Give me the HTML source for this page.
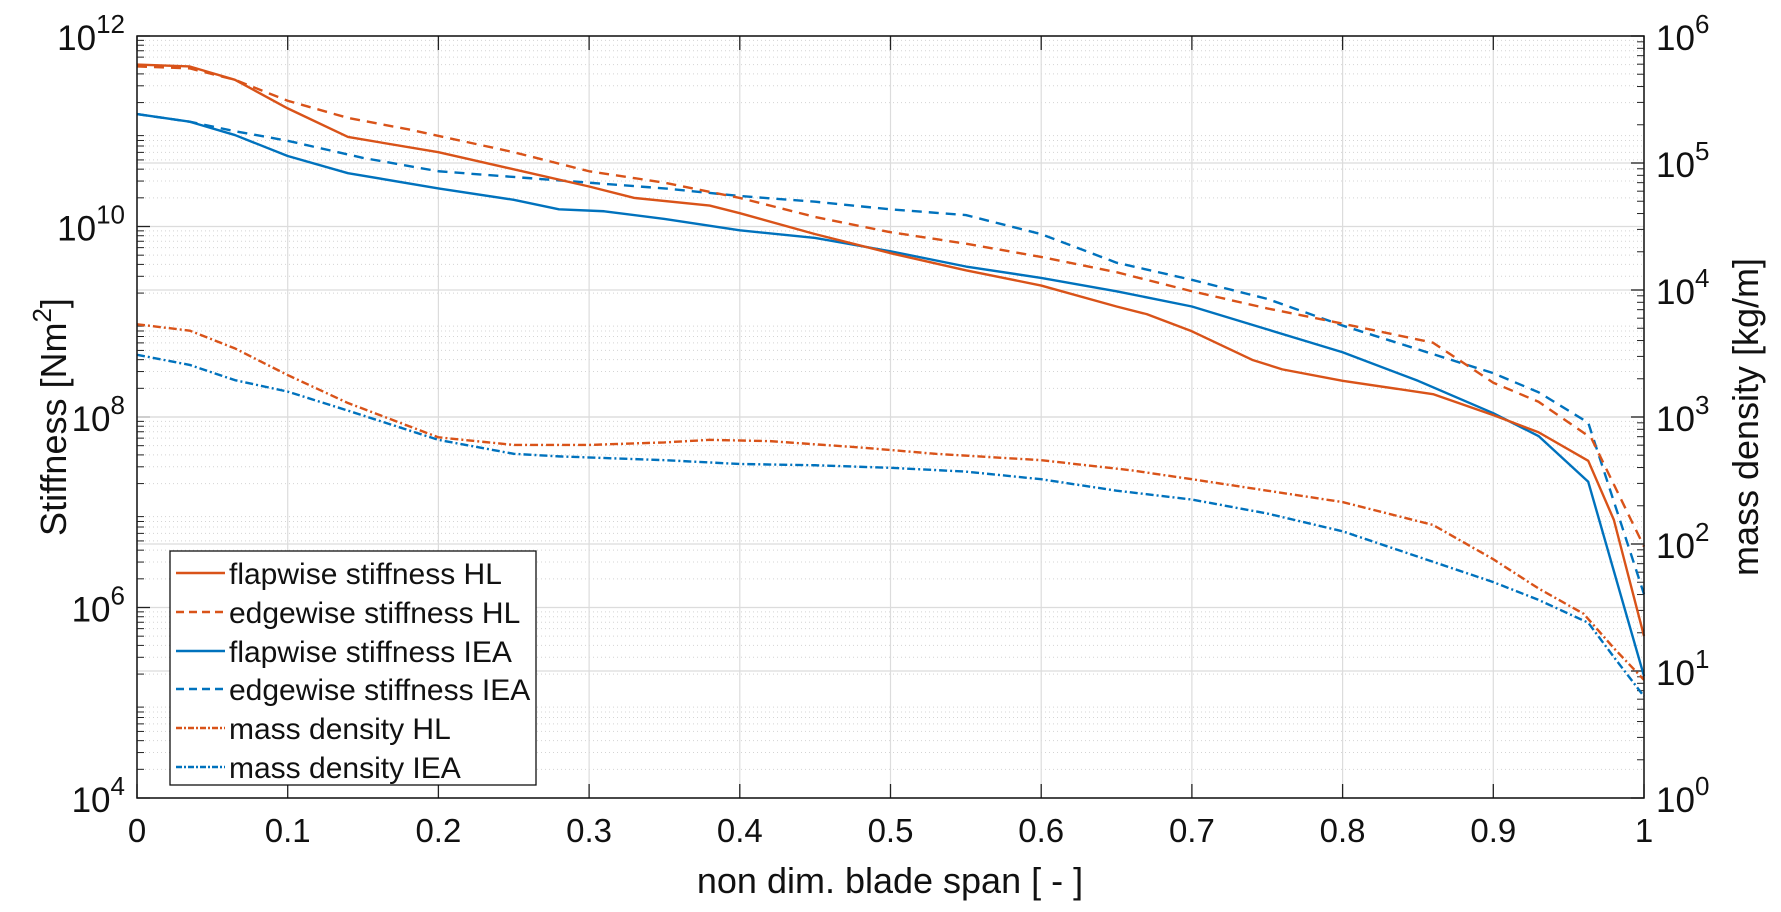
<!DOCTYPE html>
<html><head><meta charset="utf-8"><style>
html,body{margin:0;padding:0;background:#fff;}
svg{display:block;font-family:"Liberation Sans",Arial,sans-serif;}
</style></head><body>
<svg id="chart" width="1781" height="912" viewBox="0 0 1781 912" xmlns="http://www.w3.org/2000/svg"></svg>
<script>
// data: x = non-dim blade span; stiffness as log10(Nm^2); mass as log10(kg/m)
const flapHLx = [0,0.035,0.065,0.1,0.14,0.2,0.25,0.3,0.33,0.38,0.4,0.45,0.5,0.55,0.6,0.65,0.67,0.7,0.74,0.76,0.8,0.86,0.9,0.93,0.963,0.98,1.0];
const flapHL  = [11.70,11.68,11.54,11.24,10.94,10.78,10.60,10.42,10.30,10.22,10.14,9.92,9.72,9.54,9.38,9.16,9.08,8.90,8.60,8.50,8.38,8.24,8.02,7.84,7.54,6.92,5.70];
const edgeHLx = [0,0.035,0.065,0.1,0.14,0.18,0.25,0.3,0.35,0.4,0.45,0.5,0.55,0.6,0.65,0.7,0.75,0.8,0.86,0.9,0.93,0.965,1.0];
const edgeHL  = [11.68,11.66,11.54,11.32,11.14,11.02,10.78,10.58,10.46,10.30,10.10,9.94,9.82,9.68,9.52,9.32,9.14,8.98,8.78,8.36,8.16,7.78,6.64];
const flapIEAx = [0,0.035,0.065,0.1,0.14,0.2,0.25,0.28,0.31,0.35,0.4,0.45,0.5,0.55,0.6,0.65,0.7,0.75,0.8,0.85,0.9,0.93,0.963,1.0];
const flapIEA  = [11.18,11.10,10.96,10.74,10.56,10.40,10.28,10.18,10.16,10.08,9.96,9.88,9.74,9.58,9.46,9.32,9.16,8.92,8.68,8.38,8.04,7.80,7.32,5.28];
const edgeIEAx = [0,0.035,0.065,0.1,0.15,0.2,0.25,0.3,0.35,0.4,0.45,0.5,0.55,0.6,0.65,0.7,0.75,0.8,0.86,0.9,0.93,0.963,1.0];
const edgeIEA  = [11.18,11.10,11.00,10.90,10.72,10.58,10.52,10.46,10.40,10.32,10.26,10.18,10.12,9.92,9.62,9.44,9.24,8.96,8.66,8.46,8.26,7.94,6.14];
const massHLx = [0,0.035,0.065,0.1,0.14,0.2,0.25,0.3,0.35,0.38,0.42,0.48,0.53,0.6,0.66,0.7,0.75,0.8,0.86,0.9,0.93,0.96,0.98,1.0];
const massHL  = [3.73,3.68,3.54,3.33,3.11,2.84,2.78,2.78,2.80,2.82,2.81,2.76,2.71,2.66,2.58,2.51,2.42,2.33,2.15,1.88,1.65,1.45,1.18,0.93];
const massIEAx = [0,0.035,0.065,0.1,0.14,0.2,0.25,0.28,0.35,0.4,0.45,0.5,0.55,0.6,0.65,0.7,0.75,0.8,0.86,0.9,0.93,0.963,0.98,1.0];
const massIEA  = [3.49,3.41,3.29,3.20,3.05,2.82,2.71,2.69,2.66,2.63,2.62,2.60,2.57,2.51,2.42,2.35,2.24,2.10,1.86,1.70,1.56,1.38,1.11,0.80];
const xTicks = [0,0.1,0.2,0.3,0.4,0.5,0.6,0.7,0.8,0.9,1];
const xTickLabels = ["0","0.1","0.2","0.3","0.4","0.5","0.6","0.7","0.8","0.9","1"];
const leftExp = [4,6,8,10,12];
const rightExp = [0,1,2,3,4,5,6];

const NS="http://www.w3.org/2000/svg";
const svg=document.getElementById('chart');
const L=137,R=1644,T=36,B=798;
const xS=v=>L+v*(R-L);
const yL=e=>B-(e-4)/8*(B-T);
const yR=e=>B-e/6*(B-T);
const OR="#D95319",BL="#0072BD";
function mk(tag,attrs,parent){const e=document.createElementNS(NS,tag);for(const k in attrs)e.setAttribute(k,attrs[k]);(parent||svg).appendChild(e);return e;}

const grid=mk('g',{});


for(let d=4;d<12;d++){for(let m=2;m<=9;m++){const y=yL(d+Math.log10(m));mk('line',{x1:L,x2:R,y1:y,y2:y,stroke:"#d4d4d4","stroke-width":1,"stroke-dasharray":"1,3"},grid);
mk('line',{x1:L,x2:L+7,y1:y,y2:y,stroke:"#222","stroke-width":1},grid);}}
for(let d=0;d<6;d++){for(let m=2;m<=9;m++){const y=yR(d+Math.log10(m));mk('line',{x1:R-7,x2:R,y1:y,y2:y,stroke:"#222","stroke-width":1},grid);}}
for(const e of leftExp){const y=yL(e);mk('line',{x1:L,x2:R,y1:y,y2:y,stroke:"#dcdcdc","stroke-width":1.2},grid);mk('line',{x1:L,x2:L+13,y1:y,y2:y,stroke:"#222","stroke-width":1.3},grid);}
for(const e of rightExp){const y=yR(e);mk('line',{x1:L,x2:R,y1:y,y2:y,stroke:"#dcdcdc","stroke-width":1.2},grid);mk('line',{x1:R-13,x2:R,y1:y,y2:y,stroke:"#222","stroke-width":1.3},grid);}
xTicks.forEach(v=>{const x=xS(v);mk('line',{x1:x,x2:x,y1:T,y2:B,stroke:"#dcdcdc","stroke-width":1.2},grid);mk('line',{x1:x,x2:x,y1:B,y2:B-14,stroke:"#222","stroke-width":1.3},grid);mk('line',{x1:x,x2:x,y1:T,y2:T+14,stroke:"#222","stroke-width":1.3},grid);});

function series(xs,ys,ymap,color,dash,name){const p=mk('polyline',{points:xs.map((x,i)=>xS(x)+","+ymap(ys[i])).join(" "),fill:"none",stroke:color,"stroke-width":2.4,"stroke-dasharray":dash,"stroke-linejoin":"round"});

}
series(massHLx,massHL,yR,OR,"8,3,2,3","mass-density-hl-line");
series(massIEAx,massIEA,yR,BL,"8,3,2,3","mass-density-iea-line");
series(edgeIEAx,edgeIEA,yL,BL,"10,7","edgewise-stiffness-iea-line");
series(edgeHLx,edgeHL,yL,OR,"10,7","edgewise-stiffness-hl-line");
series(flapIEAx,flapIEA,yL,BL,"","flapwise-stiffness-iea-line");
series(flapHLx,flapHL,yL,OR,"","flapwise-stiffness-hl-line");

mk('rect',{x:L,y:T,width:R-L,height:B-T,fill:"none",stroke:"#111","stroke-width":1.5});

xTicks.forEach((v,i)=>{const t=mk('text',{x:xS(v),y:B+44,"text-anchor":"middle","font-size":33,fill:"#111"});t.textContent=xTickLabels[i];

});
for(const e of leftExp){const t=mk('text',{x:L-12,y:yL(e)+14,"text-anchor":"end","font-size":35,fill:"#111"});t.innerHTML='10<tspan dy="-17" font-size="26">'+e+'</tspan>';

}
for(const e of rightExp){const t=mk('text',{x:R+12,y:yR(e)+14,"text-anchor":"start","font-size":35,fill:"#111"});t.innerHTML='10<tspan dy="-17" font-size="26">'+e+'</tspan>';

}
</script>
<svg style="position:absolute;left:0;top:0" width="1781" height="912">
<text x="890" y="893" text-anchor="middle" font-size="36" fill="#111" font-family="Liberation Sans, sans-serif">non dim. blade span [ - ]</text>
<text transform="translate(66,417) rotate(-90)" text-anchor="middle" font-size="36" fill="#111" font-family="Liberation Sans, sans-serif">Stiffness [Nm<tspan dy="-15" font-size="26">2</tspan><tspan dy="15">]</tspan></text>
<text transform="translate(1758,417) rotate(-90)" text-anchor="middle" font-size="36" fill="#111" font-family="Liberation Sans, sans-serif">mass density [kg/m]</text>
<g font-family="Liberation Sans, sans-serif" font-size="30" fill="#111">
<rect x="170" y="551" width="366" height="234" fill="#fff" stroke="#111" stroke-width="1.3"/>
<g><line x1="176" x2="225" y1="573" y2="573" stroke="#D95319" stroke-width="2.4"/><text x="229" y="584">flapwise stiffness HL</text></g>
<g><line x1="176" x2="225" y1="612" y2="612" stroke="#D95319" stroke-width="2.4" stroke-dasharray="8,5"/><text x="229" y="623">edgewise stiffness HL</text></g>
<g><line x1="176" x2="225" y1="651" y2="651" stroke="#0072BD" stroke-width="2.4"/><text x="229" y="662">flapwise stiffness IEA</text></g>
<g><line x1="176" x2="225" y1="689" y2="689" stroke="#0072BD" stroke-width="2.4" stroke-dasharray="8,5"/><text x="229" y="700">edgewise stiffness IEA</text></g>
<g><line x1="176" x2="225" y1="728" y2="728" stroke="#D95319" stroke-width="2.4" stroke-dasharray="6,2,2,2"/><text x="229" y="739">mass density HL</text></g>
<g><line x1="176" x2="225" y1="767" y2="767" stroke="#0072BD" stroke-width="2.4" stroke-dasharray="6,2,2,2"/><text x="229" y="778">mass density IEA</text></g>
</g>
</svg>
</body></html>
